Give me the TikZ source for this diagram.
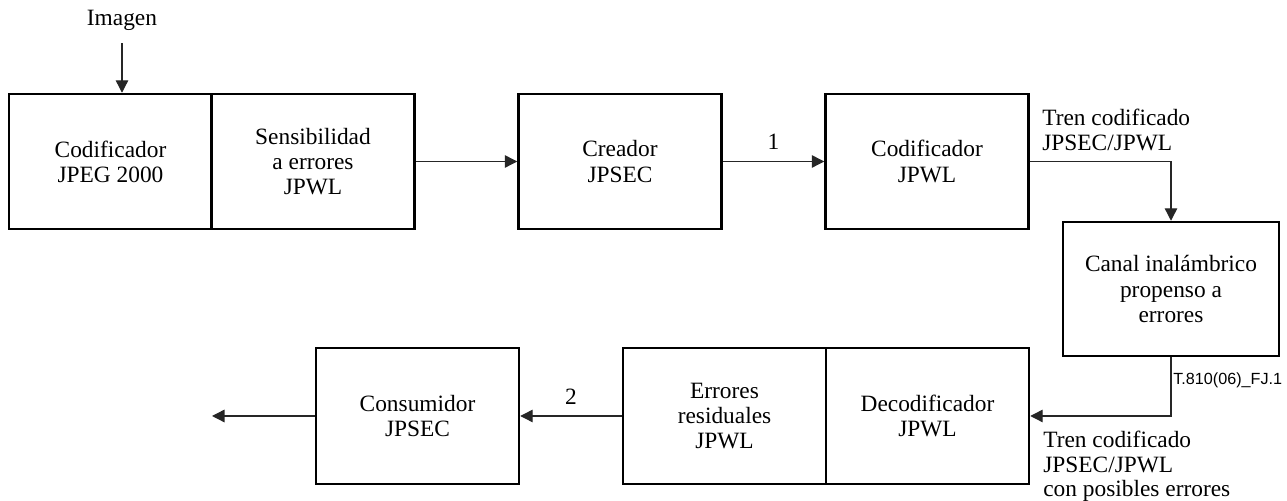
\documentclass[tikz,border=0pt]{standalone}
\usepackage{fontspec}
\setmainfont{Liberation Serif}
\newfontfamily\tagfont{Liberation Sans}
\usetikzlibrary{arrows.meta}

\begin{document}
\begin{tikzpicture}[
  >={Triangle[length = 0.25cm, width = 0.25cm]},
  every node/.style = {font = \fontsize{13.3}{14.3}\selectfont},
  block/.style = {draw, line width = 1.4pt, minimum width = 4.06cm,
    minimum height = 2.7cm, align = center},
  flow/.style = {line width = 0.75pt, draw = black!85},
  caption/.style = {align = left, inner sep = 0pt,
    font = \fontsize{13.3}{13.8}\selectfont},
  ]

  \useasboundingbox (0, 0) rectangle (25.74, 10.02);

  \node at (2.21, 6.79)
  [block, name = Encoder] {Codificador\\JPEG 2000};

  \node at (6.26, 6.79)
  [block, name = Sensitivity] {Sensibilidad\\a errores\\JPWL};

  \node at (12.40, 6.79)
  [block, name = Creator] {Creador\\JPSEC};

  \node at (18.54, 6.79)
  [block, name = JpwlEncoder] {Codificador\\JPWL};

  \node at (23.42, 4.24)
  [block, minimum width = 4.32cm, minimum height = 2.68cm, name = Channel]
  {Canal inalámbrico\\propenso a\\errores};

  \node at (18.55, 1.70)
  [block, minimum height = 2.72cm, name = Decoder] {Decodificador\\JPWL};

  \node at (14.49, 1.70)
  [block, minimum height = 2.72cm, name = Residual] {Errores\\residuales\\JPWL};

  \node at (8.35, 1.70)
  [block, minimum height = 2.72cm, name = Consumer] {Consumidor\\JPSEC};

  \node at (2.44, 9.62) [name = Image] {Imagen};

  \node at (20.84, 7.84)
  [caption, anchor = north west, name = StreamOut] {Tren codificado\\JPSEC/JPWL};

  \node at (20.86, 1.40)
  [caption, anchor = north west, name = StreamIn]
  {Tren codificado\\JPSEC/JPWL\\con posibles errores};

  \node at (23.46, 2.42)
  [anchor = west, inner sep = 0pt, font = \tagfont\fontsize{9.2}{10}\selectfont,
    name = Tag] {T.810(06)\_FJ.1};

  \coordinate (Output) at (4.24, 1.70);

  \draw [flow, ->, shorten <= 4pt] (Image) to (Image |- Encoder.north);

  \draw [flow, ->] (Sensitivity) to (Creator);

  \draw [flow, ->] (Creator) to node [above = 3pt] {1} (JpwlEncoder);

  \draw [flow, ->] (JpwlEncoder.east) -| (Channel.north);

  \draw [flow, ->] (Channel.south) |- (Decoder.east);

  \draw [flow, ->] (Residual) to node [above = 3pt] {2} (Consumer);

  \draw [flow, ->] (Consumer) to (Output);

\end{tikzpicture}
\end{document}
